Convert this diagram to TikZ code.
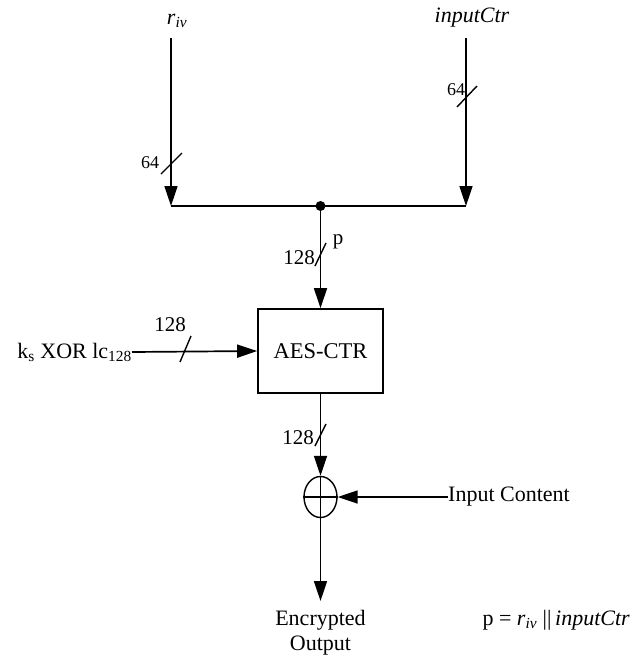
\documentclass[tikz,border=0pt]{standalone}
\usepackage{fontspec}
\setmainfont{Liberation Serif}
\usetikzlibrary{arrows.meta,shapes.geometric}
\begin{document}
\begin{tikzpicture}[x=1pt,y=-1pt,
  wire/.style={line width=1.7pt},
  arr/.style={wire,-{Triangle[length=20pt,width=13pt]}},
  slash/.style={line width=1.4pt},
  lbl/.style={font=\fontsize{22}{25}\selectfont,inner sep=0pt},
  small/.style={font=\fontsize{18}{21}\selectfont,inner sep=0pt},
  mid/.style={font=\fontsize{21}{24}\selectfont,inner sep=0pt}]
\useasboundingbox (0,0) rectangle (632,662);
% coordinates
\coordinate (rivtop) at (171,38);
\coordinate (ictrtop) at (466,38);
\coordinate (jl) at (171,206);
\coordinate (jr) at (466,206);
\coordinate (jm) at (320.5,206);
\coordinate (out) at (320.5,601);
% nodes
\node[lbl] (riv) at (177,21) {\textit{r}\textsubscript{\textit{iv}}};
\node[lbl] (ictr) at (472,18) {\textit{inputCtr}};
\node[draw,line width=1.7pt,minimum width=125pt,minimum height=84pt,inner sep=0pt,font=\fontsize{22.5}{25}\selectfont] (aes) at (320.5,351) {AES-CTR};
\node[draw,ellipse,line width=1.4pt,minimum width=33pt,minimum height=41pt,inner sep=0pt] (xor) at (320.5,497) {};
\node[lbl,anchor=east] (key) at (132,352) {k\textsubscript{s} XOR lc\textsubscript{128}};
\node[lbl,anchor=west] (ic) at (448,497) {Input Content};
\node[lbl,align=center] (enc) at (320.5,633) {Encrypted\\Output};
\node[lbl,anchor=east] (peq) at (630,620) {p = \textit{r}\textsubscript{\textit{iv}} \textbar\textbar\,\textit{inputCtr}};
% connectors
\draw[arr] (rivtop) -- (jl);
\draw[arr] (ictrtop) -- (jr);
\draw[wire] (jl) -- (jr);
\fill (jm) circle (5pt);
\draw[arr] (jm) -- (aes.north);
\draw[arr] (key.east) -- (aes.west);
\draw[arr] (aes.south) -- (xor.north);
\draw[arr] (ic.west) -- (xor.east);
\draw[wire] (xor.north) -- (xor.south);
\draw[line width=1.4pt] (xor.west) -- (xor.east);
\draw[arr] (xor.south) -- (out);
% bus-width slashes and labels
\draw[slash] (161,174) -- (182,153);
\node[small] (l64) at (150,163) {64};
\draw[slash] (457,107) -- (477,86);
\node[small] (r64) at (456,90) {64};
\draw[slash] (315,266) -- (326,243);
\node[mid] (m128) at (299,258) {128};
\node[mid] (mp) at (338,242) {p};
\draw[slash] (180,362) -- (191,336);
\node[mid] (k128) at (170,325) {128};
\draw[slash] (315,446) -- (326,424);
\node[mid] (o128) at (298,438) {128};
\end{tikzpicture}
\end{document}
